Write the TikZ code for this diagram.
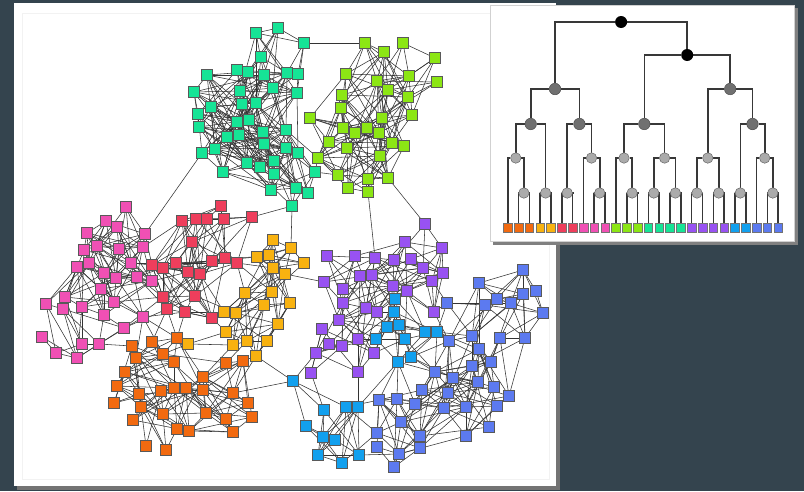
\documentclass[tikz,border=0pt]{standalone}
\pgfdeclarelayer{background}
\pgfdeclarelayer{edges}
\pgfsetlayers{background,edges,main}

\definecolor{slate}{RGB}{52,68,78}
\definecolor{cgreen}{RGB}{22,228,150}
\definecolor{clime}{RGB}{140,230,20}
\definecolor{cred}{RGB}{238,62,92}
\definecolor{cpink}{RGB}{240,80,180}
\definecolor{camber}{RGB}{248,178,16}
\definecolor{corange}{RGB}{242,106,16}
\definecolor{cpurple}{RGB}{152,82,242}
\definecolor{csky}{RGB}{18,160,238}
\definecolor{cperi}{RGB}{92,122,240}

% node positions of the communities (picture pixels)
\def\grlist{256/33, 278/28, 304/43, 261/57, 207/75, 237/70, 248/72, 264/75, 287/73, 298/74, 194/92, 240/91, 273/88, 297/93, 211/107, 242/104, 256/103, 198/114, 199/127, 237/122, 249/120, 263/132, 286/130, 227/137, 239/135, 215/149, 264/144, 202/153, 286/148, 298/153, 247/163, 260/167, 274/161, 223/172, 274/174, 315/172, 271/190, 296/188, 308/193, 292/206}
\def\lilist{365/43, 403/43, 384/52, 435/58, 346/74, 409/76, 377/81, 437/82, 388/90, 342/95, 408/97, 341/108, 310/118, 382/118, 412/115, 343/128, 355/133, 367/128, 379/133, 329/142, 347/148, 392/143, 404/146, 318/158, 380/156, 338/175, 368/179, 388/178, 348/188, 368/192}
\def\rdlist{221/206, 182/221, 196/219, 207/219, 224/219, 252/217, 192/242, 152/265, 163/268, 176/263, 188/272, 200/274, 212/261, 225/258, 237/263, 163/297, 195/296, 167/309, 185/312, 212/318}
\def\pklist{126/207, 106/221, 117/227, 87/233, 145/234, 84/250, 97/246, 119/249, 143/247, 77/267, 89/263, 131/263, 104/273, 116/278, 137/277, 152/281, 101/289, 46/304, 65/297, 63/309, 82/307, 114/302, 104/315, 143/317, 124/328, 42/337, 82/344, 99/344, 77/358, 56/353}
\def\amlist{273/240, 291/248, 257/257, 269/255, 273/268, 285/274, 304/263, 245/293, 272/292, 264/305, 290/303, 224/312, 236/313, 278/324, 226/332, 247/341, 267/341, 188/344, 233/345, 256/356}
\def\orlist{177/338, 152/342, 132/346, 163/354, 136/358, 174/362, 125/372, 226/363, 243/361, 203/377, 117/386, 139/394, 161/391, 174/388, 186/388, 203/390, 233/393, 114/403, 141/407, 163/414, 248/403, 206/413, 226/419, 252/417, 133/420, 177/429, 189/431, 233/432, 146/446, 166/450}
\def\pulist{425/224, 405/242, 442/248, 327/256, 355/256, 375/258, 394/260, 411/259, 423/268, 360/276, 372/275, 443/273, 324/282, 393/286, 432/281, 343/289, 407/291, 343/303, 366/308, 377/312, 434/312, 339/320, 322/329, 358/339, 329/344, 342/346, 316/353, 374/353, 311/373, 358/372}
\def\sklist{395/299, 394/312, 387/327, 399/325, 425/332, 437/332, 376/339, 405/339, 398/362, 411/357, 293/381, 324/410, 346/407, 358/407, 306/426, 323/437, 335/440, 318/455, 342/463, 359/455}
\def\pwlist{523/270, 479/283, 536/291, 523/294, 447/303, 485/305, 497/299, 511/303, 543/313, 472/336, 449/341, 500/338, 525/338, 479/349, 491/362, 472/366, 435/372, 453/378, 478/382, 494/387, 422/390, 448/393, 509/396, 379/400, 397/399, 415/404, 444/408, 466/407, 497/406, 401/422, 377/433, 420/436, 466/436, 489/427, 377/447, 399/454, 420/448, 394/467}

% #1 prefix, #2 colour, #3 list
\newcommand{\placecluster}[3]{%
  \foreach \x/\y [count=\i] in #3 {\node[sq, fill=#2] (#1\i) at (\x,\y) {};}}
% #1 prefix, #2 list, #3 reach, #4 chance
\newcommand{\meshcluster}[4]{%
  \foreach \xa/\ya [count=\i] in #2 {%
    \foreach \xb/\yb [count=\j] in #2 {%
      \ifnum\j>\i
        \pgfmathtruncatemacro\linkit{(veclen(\xa-\xb,\ya-\yb)<#3)&&(rnd<#4)}%
        \ifnum\linkit=1 \draw[edge] (#1\i) -- (#1\j);\fi
      \fi}}}
% #1/#2 first community, #3/#4 second, #5 reach, #6 chance
\newcommand{\meshpair}[6]{%
  \foreach \xa/\ya [count=\i] in #2 {%
    \foreach \xb/\yb [count=\j] in #4 {%
      \pgfmathtruncatemacro\linkit{(veclen(\xa-\xb,\ya-\yb)<#5)&&(rnd<#6)}%
      \ifnum\linkit=1 \draw[edge] (#1\i) -- (#3\j);\fi}}}

\begin{document}
\begin{tikzpicture}[x=1pt, y=-1pt,
  sq/.style={draw=black!65, line width=0.6pt, inner sep=0pt, minimum size=11pt},
  edge/.style={draw=black!80, line width=0.55pt},
  leaf/.style={draw=black!55, line width=0.5pt, inner sep=0pt, minimum size=8.6pt},
  joinblack/.style={circle, fill=black, inner sep=0pt, minimum size=12pt},
  joindark/.style={circle, draw=black!70, fill=black!56, line width=0.5pt, inner sep=0pt, minimum size=11.5pt},
  joinlight/.style={circle, draw=black!60, fill=black!33, line width=0.5pt, inner sep=0pt, minimum size=10.5pt},
  tree/.style={draw=black!78, line width=1.6pt}
]
\useasboundingbox (0,0) rectangle (804,491);
\pgfmathsetseed{3}

\begin{pgfonlayer}{background}
\fill[slate] (0,0) rectangle (804,491);
% network panel
\fill[black!55] (17,6) rectangle (560,490);
\fill[white] (14,3) rectangle (556,486);
\draw[black!5] (22,13) rectangle (549,479);
% dendrogram panel
\fill[black!50] (493,8) rectangle (798,245);
\fill[white] (490,5) rectangle (794,241);
\draw[black!18] (490,5) rectangle (794,241);
\end{pgfonlayer}

% communities
\placecluster{gr}{cgreen}{\grlist}
\placecluster{li}{clime}{\lilist}
\placecluster{rd}{cred}{\rdlist}
\placecluster{pk}{cpink}{\pklist}
\placecluster{am}{camber}{\amlist}
\placecluster{or}{corange}{\orlist}
\placecluster{pu}{cpurple}{\pulist}
\placecluster{sk}{csky}{\sklist}
\placecluster{pw}{cperi}{\pwlist}

\begin{pgfonlayer}{edges}
\meshcluster{gr}{\grlist}{75}{0.55}
\meshcluster{li}{\lilist}{72}{0.55}
\meshcluster{rd}{\rdlist}{66}{0.6}
\meshcluster{pk}{\pklist}{66}{0.55}
\meshcluster{am}{\amlist}{66}{0.6}
\meshcluster{or}{\orlist}{66}{0.55}
\meshcluster{pu}{\pulist}{66}{0.55}
\meshcluster{sk}{\sklist}{66}{0.55}
\meshcluster{pw}{\pwlist}{70}{0.5}
\meshpair{pk}{\pklist}{rd}{\rdlist}{50}{0.3}
\meshpair{rd}{\rdlist}{am}{\amlist}{46}{0.25}
\meshpair{am}{\amlist}{or}{\orlist}{44}{0.25}
\meshpair{or}{\orlist}{pk}{\pklist}{44}{0.25}
\meshpair{rd}{\rdlist}{or}{\orlist}{44}{0.25}
\meshpair{gr}{\grlist}{li}{\lilist}{44}{0.2}
\meshpair{pu}{\pulist}{sk}{\sklist}{50}{0.35}
\meshpair{sk}{\sklist}{pw}{\pwlist}{50}{0.3}
\meshpair{pu}{\pulist}{pw}{\pwlist}{50}{0.25}
% links between distant communities
\foreach \a/\b in {gr3/li1, gr40/am2, gr40/rd6, gr28/pk5, li30/pu6, li28/pu1,
                   am6/pu13, am20/sk11, or17/sk11}
  \draw[edge] (\a) -- (\b);
\end{pgfonlayer}

% dendrogram
\foreach \c [count=\i] in {corange,corange,corange,camber,camber,cred,cred,cpink,cpink,cpink,
                           clime,clime,clime,cgreen,cgreen,cgreen,cgreen,cpurple,cpurple,cpurple,cpurple,
                           csky,csky,cperi,cperi,cperi}
  \node[leaf, fill=\c] (lf\i) at ({496.9+10.82*\i},228) {};
\node[joinlight] (j1) at (523.9,193) {};
\node[joinlight] (j2) at (515.8,158) {};
\node[joinlight] (j3) at (545.6,193) {};
\node[joindark] (j4) at (530.7,124) {};
\node[joinlight] (j5) at (567.2,193) {};
\node[joinlight] (j6) at (599.7,193) {};
\node[joinlight] (j7) at (591.5,158) {};
\node[joindark] (j8) at (579.4,124) {};
\node[joindark] (j9) at (555.0,89) {};
\node[joinlight] (j10) at (632.1,193) {};
\node[joinlight] (j11) at (624.0,158) {};
\node[joinlight] (j12) at (653.8,193) {};
\node[joinlight] (j13) at (675.4,193) {};
\node[joinlight] (j14) at (664.6,158) {};
\node[joindark] (j15) at (644.3,124) {};
\node[joinlight] (j16) at (697.0,193) {};
\node[joinlight] (j17) at (718.7,193) {};
\node[joinlight] (j18) at (707.8,158) {};
\node[joinlight] (j19) at (740.3,193) {};
\node[joinlight] (j20) at (772.8,193) {};
\node[joinlight] (j21) at (764.7,158) {};
\node[joindark] (j22) at (752.5,124) {};
\node[joindark] (j23) at (730.2,89) {};
\node[joinblack] (j24) at (687.2,55) {};
\node[joinblack] (j25) at (621.1,22) {};
\begin{pgfonlayer}{edges}
\foreach \p/\c in {j25/j9, j25/j24, j24/j15, j24/j23, j9/j4, j9/j8, j23/j18, j23/j22,
                   j4/j2, j4/j3, j8/j5, j8/j7, j15/j11, j15/j14, j22/j19, j22/j21,
                   j2/lf1, j2/j1, j7/lf8, j7/j6, j11/lf11, j11/j10, j14/j12, j14/j13,
                   j18/j16, j18/j17, j21/lf24, j21/j20, j1/lf2, j1/lf3, j3/lf4, j3/lf5,
                   j5/lf6, j5/lf7, j6/lf9, j6/lf10, j10/lf12, j10/lf13, j12/lf14, j12/lf15,
                   j13/lf16, j13/lf17, j16/lf18, j16/lf19, j17/lf20, j17/lf21,
                   j19/lf22, j19/lf23, j20/lf25, j20/lf26}
  \draw[tree] (\p) -| (\c);
\end{pgfonlayer}
\end{tikzpicture}
\end{document}
